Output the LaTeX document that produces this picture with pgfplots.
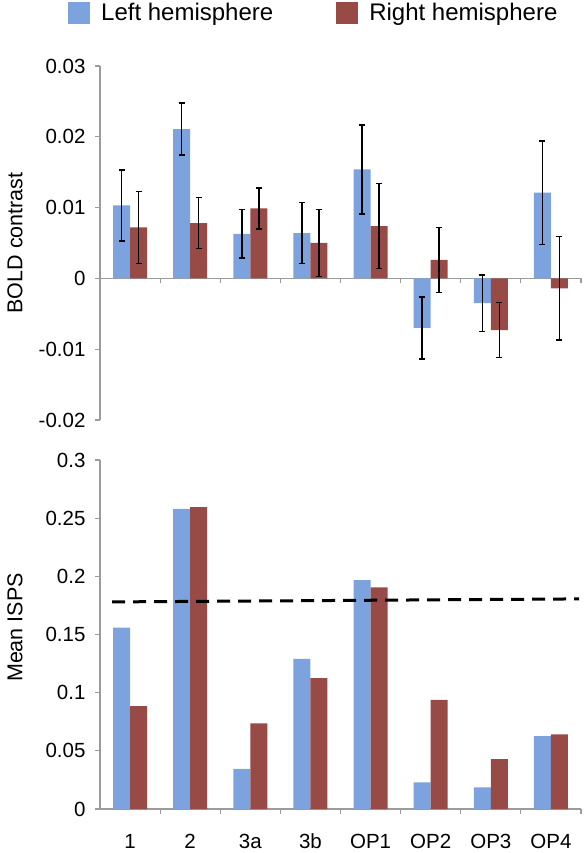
\documentclass[border=0pt]{standalone}
\usepackage{fontspec}
\setmainfont{Liberation Sans}
\usepackage{pgfplots}
\usepackage{pgfplotstable}
\pgfplotsset{compat=1.18}
\definecolor{lblue}{RGB}{125,163,222}
\definecolor{rred}{RGB}{152,74,70}
\definecolor{axgray}{RGB}{155,155,155}

\pgfplotstableread{
x L Le R Re
0 0.0103 0.0050 0.0072 0.0051
1 0.0211 0.0037 0.0078 0.0036
2 0.0063 0.0034 0.0099 0.0029
3 0.0064 0.0043 0.0050 0.0047
4 0.0154 0.0063 0.0074 0.0060
5 -0.0070 0.0044 0.0026 0.0046
6 -0.0035 0.0040 -0.0073 0.0039
7 0.0121 0.0073 -0.0014 0.0073
}\topdata

\pgfplotstableread{
x L R
0 0.156 0.0885
1 0.258 0.2594
2 0.0344 0.0736
3 0.129 0.1125
4 0.1967 0.1904
5 0.0229 0.0939
6 0.0186 0.0429
7 0.0627 0.0641
}\botdata

\begin{document}
\begin{tikzpicture}[x=1pt,y=1pt]
\useasboundingbox (0,0) rectangle (585,853);
\pgfplotsset{
  common/.style={
    scale only axis, width=481pt,
    xmin=-0.5, xmax=7.5,
    axis y line*=left,
    axis line style={axgray, line width=1.2pt},
    tick style={axgray, line width=1.2pt},
    major tick length=5pt,
    tick align=outside,
    tick label style={font=\fontsize{20.5}{24}\selectfont},
    /pgf/number format/assume math mode=true,
    yticklabel style={/pgf/number format/fixed, /pgf/number format/precision=3, xshift=-6pt},
    scaled y ticks=false,
    ylabel style={font=\fontsize{21.5}{25}\selectfont, anchor=center},
    xtick={0.5,1.5,2.5,3.5,4.5,5.5,6.5,7.5},
    xticklabels={},
  },
  barL/.style={ybar, bar width=17pt, bar shift=0pt, fill=lblue, draw=none},
  barR/.style={ybar, bar width=17pt, bar shift=0pt, fill=rred, draw=none},
  errs/.style={error bars/.cd, y dir=both, y explicit,
    error bar style={black, line width=1.6pt},
    error mark options={black, line width=1.5pt, mark size=3pt, rotate=90}},
}

\begin{axis}[common,
  at={(100pt,433pt)}, anchor=south west, height=354pt,
  axis x line*=middle,
  ymin=-0.02, ymax=0.03,
  ytick={-0.02,-0.01,0,0.01,0.02,0.03},
  ylabel={BOLD contrast},
  ylabel style={at={(axis description cs:-0.1767,0.5)}},
  legend columns=2,
  legend style={at={(axis description cs:-0.0665,1.151)}, anchor=west,
    draw=none, fill=none, inner sep=0pt,
    font=\fontsize{24}{28}\selectfont,
    nodes={inner sep=0pt, anchor=west},
    /tikz/every odd column/.append style={column sep=11pt},
    /tikz/every even column/.append style={column sep=63pt}},
  legend image code/.code={\fill[#1] (0pt,-11pt) rectangle (22pt,11pt);},
]
\addplot[barL, errs] table[x expr=\thisrow{x}-0.1414, y=L, y error=Le] {\topdata};
\addlegendentry{Left hemisphere}
\addplot[barR, errs] table[x expr=\thisrow{x}+0.1414, y=R, y error=Re] {\topdata};
\addlegendentry{Right hemisphere}
\end{axis}

\begin{axis}[common,
  at={(100pt,44pt)}, anchor=south west, height=349pt,
  axis x line*=bottom,
  ymin=0, ymax=0.3,
  ytick={0,0.05,0.1,0.15,0.2,0.25,0.3},
  ylabel={Mean ISPS},
  ylabel style={at={(axis description cs:-0.1767,0.52)}},
  extra x ticks={0,1,2,3,4,5,6,7},
  extra x tick labels={1,2,3a,3b,OP1,OP2,OP3,OP4},
  extra x tick style={major tick length=0pt, tick style={draw=none},
     xticklabel style={yshift=-21pt, text height=15pt, text depth=2pt}},
]
\addplot[barL] table[x expr=\thisrow{x}-0.1414, y=L] {\botdata};
\addplot[barR] table[x expr=\thisrow{x}+0.1414, y=R] {\botdata};
\addplot[black, line width=3pt, dash pattern=on 13pt off 8pt] coordinates {(-0.3,0.178) (7.47,0.1806)};
\end{axis}
\end{tikzpicture}
\end{document}
